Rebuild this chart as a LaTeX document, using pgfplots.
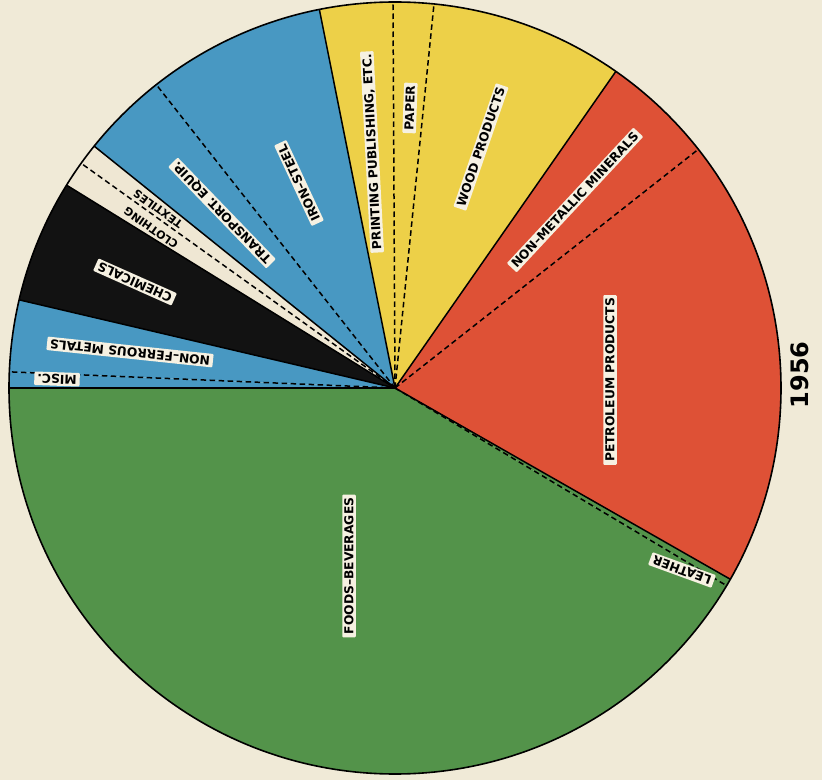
\documentclass[border=0pt]{standalone}
\usepackage{pgfplots}
\usepackage{pgfplotstable}
\pgfplotsset{compat=1.18}
\usepackage{fontspec}
\setmainfont{DejaVu Sans}

\definecolor{bg}{HTML}{F0EAD7}
\definecolor{cgreen}{HTML}{53934A}
\definecolor{cred}{HTML}{DE5136}
\definecolor{cyellow}{HTML}{EDD048}
\definecolor{cblue}{HTML}{4898C2}
\definecolor{cblack}{HTML}{121212}
\definecolor{cwhite}{HTML}{EFE7D3}
\definecolor{lab}{HTML}{F6F1E2}

% sector boundaries (degrees) of the 1956 pie
\pgfplotstableread{
start end col
180 329.2 cgreen
329.2 330.3 cgreen
-29.7 38.2 cred
38.2 55.1 cred
55.1 84.2 cyellow
84.2 90.3 cyellow
90.3 101.3 cyellow
101.3 128.2 cblue
128.2 141.2 cblue
141.2 144.4 cwhite
144.4 148.3 cwhite
148.3 166.8 cblack
166.8 177.6 cblue
177.6 180 cblue
}\slices

\pgfplotstableread{
angle st
180 sl
177.6 dl
166.8 sl
148.3 sl
144.4 dl
141.2 sl
128.2 dl
101.3 sl
90.3 dl
84.2 dl
55.1 sl
38.2 dl
-29.7 sl
-30.8 dl
}\bounds

\begin{document}
\begin{tikzpicture}[
  sl/.style={line width=1.5pt},
  dl/.style={line width=1.5pt, dash pattern=on 5.5pt off 3.5pt},
  lbl/.style={fill=lab, inner xsep=3pt, inner ysep=2pt, rounded corners=1pt,
     font=\bfseries\fontsize{12.3}{13}\selectfont, text height=9pt, text depth=0.5pt},
  nlb/.style={inner xsep=3pt, inner ysep=1pt,
     font=\bfseries\fontsize{11}{12}\selectfont, text height=8pt, text depth=0.3pt}
]
\begin{axis}[x=1pt, y=1pt, xmin=0, xmax=822, ymin=0, ymax=780,
  hide axis, clip=false]
\fill[bg] (axis cs:0,0) rectangle (axis cs:822,780);
\pgfplotstablegetrowsof{\slices}
\pgfmathtruncatemacro\N{\pgfplotsretval-1}
\foreach \i in {0,...,\N}{
  \pgfplotstablegetelem{\i}{start}\of\slices \let\sa\pgfplotsretval
  \pgfplotstablegetelem{\i}{end}\of\slices \let\sb\pgfplotsretval
  \pgfplotstablegetelem{\i}{col}\of\slices \let\sc\pgfplotsretval
  \edef\tmp{\noexpand\fill[\sc] (axis cs:395,392) -- ++(\sa:386pt)
     arc[start angle=\sa, end angle=\sb, radius=386pt] -- cycle;}
  \tmp
}
\pgfplotstablegetrowsof{\bounds}
\pgfmathtruncatemacro\M{\pgfplotsretval-1}
\foreach \i in {0,...,\M}{
  \pgfplotstablegetelem{\i}{angle}\of\bounds \let\ba\pgfplotsretval
  \pgfplotstablegetelem{\i}{st}\of\bounds \let\bs\pgfplotsretval
  \edef\tmp{\noexpand\draw[\bs] (axis cs:395,392) -- ++(\ba:386pt);}
  \tmp
}
\draw[line width=1.6pt] (axis cs:395,392) circle[radius=386pt];

\node[lbl, rotate=90] at (axis cs:349,214) {FOODS–BEVERAGES};
\node[lbl, rotate=90] at (axis cs:610,400) {PETROLEUM PRODUCTS};
\node[lbl, rotate=47] at (axis cs:575,580) {NON–METALLIC MINERALS};
\node[lbl, rotate=71] at (axis cs:481,633) {WOOD PRODUCTS};
\node[lbl, rotate=88] at (axis cs:410,672) {PAPER};
\node[lbl, rotate=93] at (axis cs:372,628) {PRINTING PUBLISHING, ETC.};
\node[lbl, rotate=115] at (axis cs:299,597) {IRON–STEEL};
\node[lbl, rotate=134] at (axis cs:222,567) {TRANSPORT. EQUIP.};
\node[nlb, rotate=144] at (axis cs:158,571) {TEXTILES};
\node[nlb, rotate=145] at (axis cs:151,552) {CLOTHING};
\node[lbl, rotate=156] at (axis cs:135,498) {CHEMICALS};
\node[lbl, rotate=174] at (axis cs:130,428) {NON–FERROUS METALS};
\node[lbl, rotate=178] at (axis cs:57,401) {MISC.};
\node[lbl, rotate=160] at (axis cs:682,210) {LEATHER};
\node[rotate=90, font=\bfseries\fontsize{24}{26}\selectfont] at (axis cs:800,405) {1956};
\end{axis}
\end{tikzpicture}
\end{document}
